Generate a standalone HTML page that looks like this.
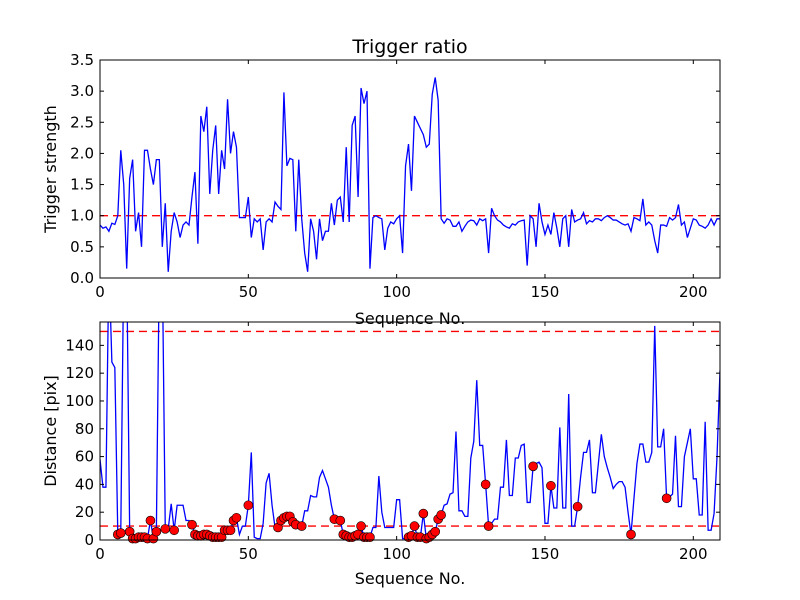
<!DOCTYPE html>
<html><head><meta charset="utf-8"><style>
html,body{margin:0;padding:0;background:#fff;}
svg{display:block;font-family:"DejaVu Sans","Liberation Sans",sans-serif;}
</style></head><body>
<svg id="fig" width="800" height="600" viewBox="0 0 800 600"></svg>
<script>
const seqMax = 209;
const topTicksY = [0.0,0.5,1.0,1.5,2.0,2.5,3.0,3.5];
const xTicks = [0,50,100,150,200];
const botTicksY = [0,20,40,60,80,100,120,140];
const triggerThreshold = 1.0;
const distThresholds = [10,150];
const triggerValues = [0.85,0.8,0.82,0.75,0.88,0.86,1.0,2.05,1.5,0.15,1.6,1.9,0.75,1.05,0.5,2.05,2.05,1.75,1.5,1.9,1.9,0.5,1.2,0.1,0.75,1.05,0.9,0.65,0.85,0.9,0.85,1.3,1.7,0.55,2.6,2.35,2.75,1.35,2.05,2.45,1.35,2.05,1.75,2.87,2.0,2.35,2.1,0.97,0.97,0.97,1.3,0.65,0.95,0.9,0.95,0.45,0.9,0.95,0.9,1.22,1.15,1.1,2.98,1.8,1.92,1.9,0.75,1.9,0.95,0.4,0.1,0.95,0.75,0.3,0.95,0.6,0.75,0.75,1.2,0.85,1.25,1.3,0.9,2.1,0.9,2.45,2.6,1.3,3.05,2.8,3.0,0.15,0.97,1.0,0.97,0.95,0.45,0.8,0.9,0.87,0.95,1.0,0.4,1.8,2.15,1.4,2.6,2.5,2.4,2.3,2.1,2.15,2.95,3.22,2.85,0.95,0.88,0.95,0.93,0.83,0.83,0.9,0.75,0.83,0.9,0.93,0.92,0.85,0.95,0.92,0.95,0.4,1.12,1.0,0.93,0.9,0.85,0.82,0.8,0.87,0.85,0.9,0.92,0.93,0.2,1.0,0.95,0.5,1.2,0.9,0.7,0.85,0.7,1.05,0.8,0.5,0.95,1.0,0.5,1.1,0.9,0.93,0.95,1.05,0.87,0.92,0.9,0.95,0.95,0.92,0.97,1.0,0.97,0.93,0.93,0.9,0.87,0.85,0.87,0.75,0.97,0.95,0.92,1.27,0.85,0.9,0.85,0.6,0.4,0.85,0.85,0.83,0.97,0.93,0.97,1.18,0.85,0.9,0.65,0.8,0.95,0.93,0.85,0.83,0.8,0.85,0.95,0.85,0.95,0.95];
const distValues = [58,38,38,200,128,124,4,5,200,200,6,1,1,2,2,2,1,14,1,6,200,200,8,8,26,7,25,25,25,14,14,11,4,3,3,4,4,3,2,2,2,2,7,7,7,14,16,4,10,10,25,63,2,1,1,12,41,48,25,9,9,14,16,17,17,13,11,9,10,21,21,32,31,31,45,50,44,38,25,15,14,14,4,3,2,2,3,4,10,2,2,2,9,9,46,20,9,9,9,9,29,29,1,1,2,3,10,2,2,19,1,2,4,6,15,18,25,26,33,34,78,21,21,17,17,59,71,115,68,68,40,10,12,15,15,38,38,72,32,32,59,59,68,69,27,27,53,55,56,52,12,12,39,23,23,81,23,23,105,10,10,24,45,63,63,72,34,34,55,76,60,52,45,37,40,42,42,38,20,4,30,55,69,69,56,56,63,154,67,67,80,30,31,33,75,24,24,60,70,80,44,44,18,18,85,7,7,19,60,122];
const markerIdx = [6,7,10,11,12,13,14,15,16,17,18,19,22,25,31,32,33,34,35,36,37,38,39,40,41,42,43,44,45,46,50,60,61,62,63,64,65,66,68,79,81,82,83,84,85,86,87,88,89,90,91,104,105,106,107,108,109,110,111,112,113,114,115,130,131,146,152,161,179,191];

const NS="http://www.w3.org/2000/svg";
const svg=document.getElementById('fig');
function mk(tag,attrs,parent){const e=document.createElementNS(NS,tag);for(const k in attrs)e.setAttribute(k,attrs[k]);(parent||svg).appendChild(e);return e;}
const L=100,W=620,H=218;
function panel(top,ymax,name,clipId){
  const g=mk('g',{});
  
  
  const xs=v=>L+v/seqMax*W;
  const ys=v=>top+H-v/ymax*H;
  const defs=mk('defs',{},g);
  const cp=mk('clipPath',{id:clipId},defs);
  mk('rect',{x:L,y:top,width:W,height:H},cp);
  return {g,xs,ys,top};
}
function axes(p,yTicks,fmt,ylabel,xlabelY,pref){
  const {g,xs,ys,top}=p;
  xTicks.forEach(t=>{
    const x=xs(t);
    mk('line',{x1:x,x2:x,y1:top+H,y2:top+H-4,stroke:'#000','stroke-width':1},g);
    mk('line',{x1:x,x2:x,y1:top,y2:top+4,stroke:'#000','stroke-width':1},g);
    const tx=mk('text',{x:x,y:top+H+19,'text-anchor':'middle','font-size':15},g);
    tx.textContent=t;
    
    
  });
  yTicks.forEach(t=>{
    const y=ys(t);
    mk('line',{x1:L,x2:L+4,y1:y,y2:y,stroke:'#000','stroke-width':1},g);
    mk('line',{x1:L+W,x2:L+W-4,y1:y,y2:y,stroke:'#000','stroke-width':1},g);
    const tx=mk('text',{x:L-6,y:y+5,'text-anchor':'end','font-size':15},g);
    tx.textContent=fmt(t);
    
    
  });
  const fr=mk('rect',{x:L,y:top,width:W,height:H,fill:'none',stroke:'#000','stroke-width':1},g);
  
  
  const xl=mk('text',{x:L+W/2,y:xlabelY,'text-anchor':'middle','font-size':16},g);
  xl.textContent='Sequence No.';
  
  
  const yl=mk('text',{x:0,y:0,'text-anchor':'middle','font-size':16,transform:`translate(56,${top+H/2}) rotate(-90)`},g);
  yl.textContent=ylabel;
  
  
}
const title=mk('text',{x:410,y:53,'text-anchor':'middle','font-size':19});
title.textContent='Trigger ratio';



const p1=panel(60,3.5,'trigger-panel','c1');
const tl=mk('line',{x1:L,x2:L+W,y1:p1.ys(triggerThreshold),y2:p1.ys(triggerThreshold),stroke:'#ff0000','stroke-width':1.4,'stroke-dasharray':'8,5'},p1.g);


const tp=mk('polyline',{points:triggerValues.map((v,i)=>p1.xs(i)+','+p1.ys(v)).join(' '),fill:'none',stroke:'#0000ff','stroke-width':1.3,'clip-path':'url(#c1)'},p1.g);


axes(p1,topTicksY,t=>t.toFixed(1),'Trigger strength',324,'top-');

const p2=panel(322,156.8,'distance-panel','c2');
distThresholds.forEach(v=>{
  const dl=mk('line',{x1:L,x2:L+W,y1:p2.ys(v),y2:p2.ys(v),stroke:'#ff0000','stroke-width':1.4,'stroke-dasharray':'8,5'},p2.g);
  
  
});
const dp=mk('polyline',{points:distValues.map((v,i)=>p2.xs(i)+','+p2.ys(v)).join(' '),fill:'none',stroke:'#0000ff','stroke-width':1.3,'clip-path':'url(#c2)'},p2.g);


markerIdx.forEach(i=>{
  const c=mk('circle',{cx:p2.xs(i),cy:p2.ys(distValues[i]),r:4.5,fill:'#ff0000',stroke:'#000','stroke-width':0.6},p2.g);
  
  
});
axes(p2,botTicksY,t=>String(t),'Distance [pix]',584,'bottom-');
</script>
</body></html>
